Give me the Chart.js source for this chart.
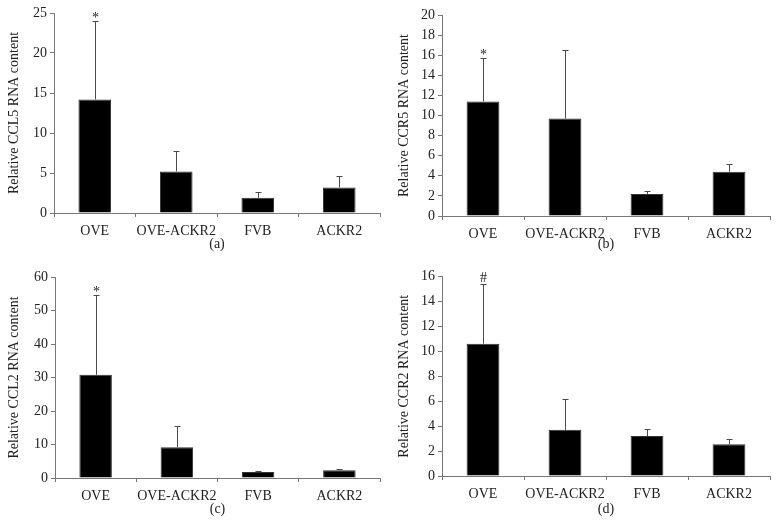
<!DOCTYPE html>
<html>
<head>
<meta charset="utf-8">
<script src="https://cdn.jsdelivr.net/npm/chart.js@4"></script>
<style>
  html, body { margin: 0; padding: 0; background: #fff; }
  #wrap { position: relative; width: 780px; height: 529px; overflow: hidden; }
  .panel { position: absolute; width: 390px; height: 262px; }
</style>
</head>
<body>
<div id="wrap">
  <div class="panel" style="left:0;top:0"><canvas id="chartA"></canvas></div>
  <div class="panel" style="left:390px;top:0"><canvas id="chartB"></canvas></div>
  <div class="panel" style="left:0;top:265px"><canvas id="chartC"></canvas></div>
  <div class="panel" style="left:390px;top:265px"><canvas id="chartD"></canvas></div>
</div>
<script>
const categories = ["OVE", "OVE-ACKR2", "FVB", "ACKR2"];

const ccl5Values = [14.2, 5.2, 1.9, 3.2];
const ccl5Upper = [24.0, 7.7, 2.6, 4.6];
const ccl5Marks = ["*", "", "", ""];

const ccr5Values = [11.4, 9.7, 2.2, 4.4];
const ccr5Upper = [15.7, 16.5, 2.5, 5.2];
const ccr5Marks = ["*", "", "", ""];

const ccl2Values = [30.8, 9.2, 1.8, 2.3];
const ccl2Upper = [54.5, 15.4, 2.2, 2.7];
const ccl2Marks = ["*", "", "", ""];

const ccr2Values = [10.6, 3.7, 3.2, 2.55];
const ccr2Upper = [15.4, 6.2, 3.74, 3.0];
const ccr2Marks = ["#", "", "", ""];

const serif = "'Liberation Serif', 'DejaVu Serif', serif";

// upper error bars plus the significance marks
const errorBarPlugin = {
    id: "errorBars",
    afterDatasetsDraw: function (chart, args, opts) {
        const ctx = chart.ctx;
        const meta = chart.getDatasetMeta(0);
        const y = chart.scales.y;
        ctx.save();
        meta.data.forEach(function (bar, i) {
            const top = Math.round(y.getPixelForValue(opts.upper[i])) + 0.5;
            const x = Math.round(bar.x) + 0.5;
            ctx.strokeStyle = "#4a4a4a";
            ctx.lineWidth = 1;
            ctx.beginPath();
            ctx.moveTo(x, bar.y);
            ctx.lineTo(x, top);
            ctx.moveTo(x - 3, top);
            ctx.lineTo(x + 3, top);
            ctx.stroke();
            if (opts.marks[i]) {
                ctx.fillStyle = "#222";
                ctx.font = "14px " + serif;
                ctx.textAlign = "center";
                ctx.textBaseline = "bottom";
                ctx.fillText(opts.marks[i], x, opts.marks[i] === "*" ? top + 4 : top + 1);
            }
        });
        ctx.restore();
    }
};

function makePanel(canvasId, values, upper, marks, yMax, yStep, yTitle, letter, box) {
    const canvas = document.getElementById(canvasId);
    return new Chart(canvas.getContext("2d"), {
        type: "bar",
        data: {
            labels: categories,
            datasets: [{
                data: values,
                backgroundColor: "#000",
                borderColor: "#333",
                borderWidth: 1,
                categoryPercentage: 1,
                barPercentage: 0.4
            }]
        },
        options: {
            responsive: true,
            maintainAspectRatio: false,
            animation: false,
            layout: { padding: { top: box.top, right: 10, left: 0, bottom: 0 } },
            plugins: {
                legend: { display: false },
                tooltip: { enabled: false },
                errorBars: { upper: upper, marks: marks }
            },
            scales: {
                x: {
                    afterFit: function (s) { s.height = 262 - box.bottom; },
                    border: { color: "#777", width: 1 },
                    grid: { display: true, drawOnChartArea: false, drawTicks: true, tickLength: 4, color: "#777", offset: true },
                    ticks: { color: "#222", font: { family: serif, size: 14 }, padding: 6, maxRotation: 0, minRotation: 0, autoSkip: false },
                    title: { display: true, text: letter, color: "#222", font: { family: serif, size: 14 }, padding: { top: 3, bottom: 9 } }
                },
                y: {
                    min: 0,
                    max: yMax,
                    afterFit: function (s) { s.width = box.left; },
                    border: { color: "#777", width: 1 },
                    grid: { display: true, drawOnChartArea: false, drawTicks: true, tickLength: 4, color: "#777" },
                    ticks: { stepSize: yStep, color: "#222", font: { family: serif, size: 14 }, padding: 3 },
                    title: { display: true, text: yTitle, color: "#222", font: { family: serif, size: 14 }, padding: { top: 6, bottom: 2 } }
                }
            }
        },
        plugins: [errorBarPlugin]
    });
}

makePanel("chartA", ccl5Values, ccl5Upper, ccl5Marks, 25, 5, "Relative CCL5 RNA content", "(a)", { top: 13, bottom: 213, left: 54 });
makePanel("chartB", ccr5Values, ccr5Upper, ccr5Marks, 20, 2, "Relative CCR5 RNA content", "(b)", { top: 15, bottom: 216, left: 52 });
makePanel("chartC", ccl2Values, ccl2Upper, ccl2Marks, 60, 10, "Relative CCL2 RNA content", "(c)", { top: 12, bottom: 213, left: 55 });
makePanel("chartD", ccr2Values, ccr2Upper, ccr2Marks, 16, 2, "Relative CCR2 RNA content", "(d)", { top: 10, bottom: 211, left: 52 });
</script>
</body>
</html>
